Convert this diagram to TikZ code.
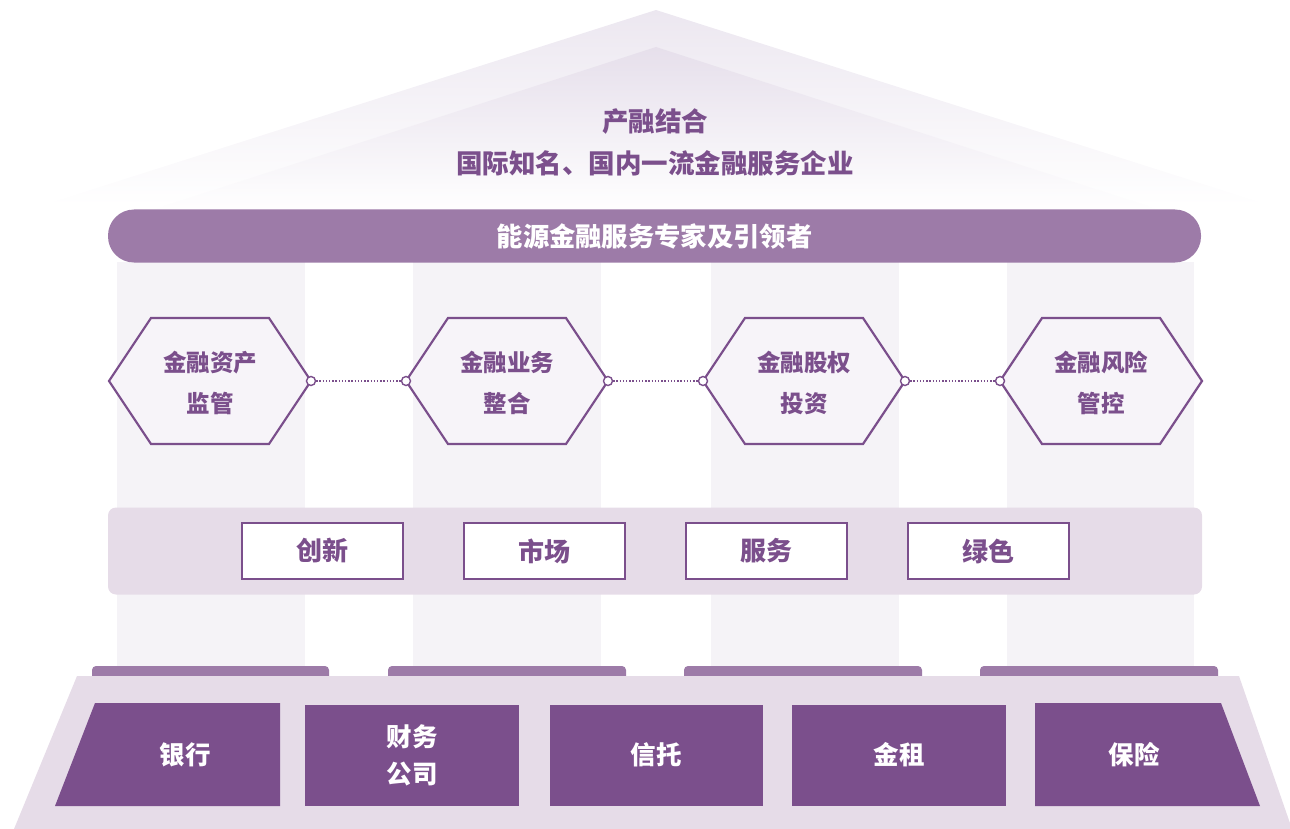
\documentclass[tikz,border=0pt]{standalone}
\usepackage{fontspec}
\setmainfont{Noto Sans CJK SC}
\definecolor{dp}{HTML}{7B4F8C}
\definecolor{mp}{HTML}{9D7BA8}
\definecolor{lp}{HTML}{E6DCE8}
\definecolor{colf}{HTML}{F5F3F7}
\definecolor{hexf}{HTML}{F7F4F9}
\definecolor{roofa}{HTML}{ECE7F0}
\definecolor{roofb}{HTML}{E6DFEB}
\begin{document}
\begin{tikzpicture}[x=1pt,y=-1pt,
  ttl/.style={text=dp,font=\fontsize{26.5}{30}\selectfont\bfseries},
  pilltxt/.style={text=white,font=\fontsize{26.3}{30}\selectfont\bfseries},
  hextxt/.style={text=dp,font=\fontsize{23.5}{41}\selectfont\bfseries,align=center},
  hexbox/.style={draw=dp,line width=2.2,fill=hexf},
  tagbox/.style={draw=dp,line width=2,fill=white,minimum width=161,minimum height=56,inner sep=0,text=dp,font=\fontsize{26}{30}\selectfont\bfseries},
  basebox/.style={fill=dp},
  basetxt/.style={text=white,font=\fontsize{25.5}{37}\selectfont\bfseries,align=center},
  dot/.style={circle,draw=dp,fill=white,line width=1.4,minimum size=9,inner sep=0},
  link/.style={draw=dp,line width=1.4,dash pattern=on 1.4pt off 1.8pt}]
\useasboundingbox (0,0) rectangle (1290,829);
% roof
\shade[top color=roofa,bottom color=white] (656,10) -- (40,206) -- (1272,206) -- cycle;
\shade[top color=roofb,bottom color=white] (656,47) -- (146,212) -- (1166,212) -- cycle;
% columns
\foreach \a/\b in {117/305,413/601,711/899,1007/1194}{
  \fill[colf] (\a,262) rectangle (\b,668);
}
% title texts
\node[ttl] (t1) at (655,122) {产融结合};
\node[ttl] (t2) at (655,163) {国际知名、国内一流金融服务企业};
% pill
\node[fill=mp,rounded corners=26,minimum width=1093,minimum height=53,inner sep=0,pilltxt] (pill) at (654.5,236) {能源金融服务专家及引领者};
% hexagons
\foreach \i/\cx/\la/\lb in {1/210/金融资产/监管,2/507/金融业务/整合,3/804/金融股权/投资,4/1101/金融风险/管控}{
  \draw[hexbox] (\cx-101,381) -- (\cx-59,318) -- (\cx+59,318) -- (\cx+101,381) -- (\cx+59,444) -- (\cx-59,444) -- cycle;
  \node[hextxt] (h\i) at (\cx,383) {\la\\\lb};
}
\foreach \i/\cx in {1/210,2/507,3/804}{
  \node[dot] (r\i) at (\cx+101,381) {};
}
\foreach \i/\cx in {2/507,3/804,4/1101}{
  \node[dot] (l\i) at (\cx-101,381) {};
}
\draw[link] (r1) -- (l2);
\draw[link] (r2) -- (l3);
\draw[link] (r3) -- (l4);
% band
\node[fill=lp,rounded corners=8,minimum width=1094,minimum height=87,inner sep=0] (band) at (655,551) {};
\node[tagbox] (g1) at (322,551) {创新};
\node[tagbox] (g2) at (544,551) {市场};
\node[tagbox] (g3) at (766,551) {服务};
\node[tagbox] (g4) at (988,551) {绿色};
% caps
\foreach \a/\b in {92/329,388/626,684/922,980/1218}{
  \fill[mp,rounded corners=4] (\a,680) -- (\a,666) -- (\b,666) -- (\b,680) -- cycle;
}
% base
\fill[lp] (77,676) -- (1239,676) -- (1292,829) -- (14,829) -- cycle;
\fill[basebox] (95,703) -- (280,703) -- (280,806) -- (55,806) -- cycle;
\fill[basebox] (305,705) rectangle (519,806);
\fill[basebox] (550,705) rectangle (763,806);
\fill[basebox] (792,705) rectangle (1006,806);
\fill[basebox] (1035,703) -- (1221,703) -- (1260,806) -- (1035,806) -- cycle;
\node[basetxt] (b1) at (185,755) {银行};
\node[basetxt] (b2) at (412,755) {财务\\公司};
\node[basetxt] (b3) at (656,755) {信托};
\node[basetxt] (b4) at (899,755) {金租};
\node[basetxt] (b5) at (1134,755) {保险};
\end{tikzpicture}
\end{document}
